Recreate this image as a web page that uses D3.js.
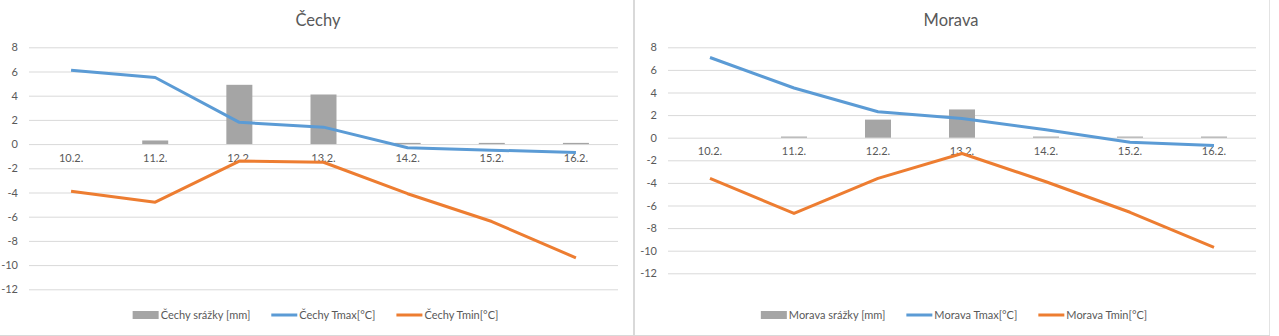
<!DOCTYPE html>
<html>
<head>
<meta charset="utf-8">
<script src="https://d3js.org/d3.v7.min.js"></script>
<style>
  body { margin: 0; background: #fff; }
  svg text { font-family: Lato, "Open Sans", sans-serif; fill: #595959; }
  .grid .domain { display: none; }
</style>
</head>
<body>
<script>
const days = ['10.2.', '11.2.', '12.2.', '13.2.', '14.2.', '15.2.', '16.2.']
const yTicks = [8, 6, 4, 2, 0, -2, -4, -6, -8, -10, -12]

const cechySrazky = [0, 0.3, 4.9, 4.1, 0.1, 0.1, 0.1]
const cechyTmax = [6.1, 5.5, 1.8, 1.4, -0.3, -0.5, -0.7]
const cechyTmin = [-3.9, -4.8, -1.4, -1.5, -4.1, -6.4, -9.4]

const moravaSrazky = [0, 0.1, 1.6, 2.5, 0.1, 0.1, 0.1]
const moravaTmax = [7.1, 4.4, 2.3, 1.7, 0.7, -0.4, -0.7]
const moravaTmin = [-3.6, -6.7, -3.6, -1.4, -3.9, -6.6, -9.7]

const W = 1279, H = 336
const colors = {bar: '#a5a5a5', tmax: '#5b9bd5', tmin: '#ed7d31'}
const fs = '11px'

const svg = d3.select('body').append('svg')
    .attr('width', W)
    .attr('height', H)

// panel frames
svg.append('line').attr('x1', 634).attr('x2', 634).attr('y1', 0).attr('y2', 335)
  .attr('stroke', '#d9d9d9').attr('stroke-width', 2)
svg.append('line').attr('x1', 1269.5).attr('x2', 1269.5).attr('y1', 0).attr('y2', 335)
  .attr('stroke', '#e3e3e3')
svg.append('line').attr('x1', 0).attr('x2', 1270).attr('y1', 335.5).attr('y2', 335.5)
  .attr('stroke', '#d9d9d9')

function drawPanel(p) {
  const g = svg.append('g')

  const x = d3.scaleBand().domain(days).range([p.left, p.right])
  const y = d3.scaleLinear().domain([-12, 8]).range([p.bottom, p.top])

  // title
  g.append('text')
    .attr('x', p.cx).attr('y', 26)
    .attr('text-anchor', 'middle')
    .style('font-size', '16.5px')
    .text(p.title)

  // gridlines + value labels (plain hyphen minus)
  const ya = g.append('g').attr('class', 'grid')
    .attr('transform', 'translate(' + p.left + ',0)')
    .call(d3.axisLeft(y).tickValues(yTicks).tickFormat(d => String(d))
      .tickSize(-(p.right - p.left)).tickPadding(11))
  ya.selectAll('text').style('font-size', fs)
  ya.selectAll('line').attr('stroke', '#d9d9d9')

  // precipitation bars
  const bw = 26
  g.append('g').selectAll('rect')
    .data(p.srazky)
    .enter()
    .append('rect')
      .attr('x', (d, i) => x(days[i]) + x.bandwidth() / 2 - bw / 2)
      .attr('y', d => y(d))
      .attr('width', bw)
      .attr('height', d => y(0) - y(d))
      .style('fill', colors.bar)

  // category labels sit just under the zero line
  const xa = g.append('g')
    .attr('transform', 'translate(0,' + y(0) + ')')
    .call(d3.axisBottom(x).tickSize(0).tickPadding(10))
  xa.select('.domain').remove()
  xa.selectAll('text').style('font-size', fs)

  const line = d3.line()
    .x((d, i) => x(days[i]) + x.bandwidth() / 2)
    .y(d => y(d))

  g.append('path').datum(p.tmax)
    .attr('d', line)
    .attr('fill', 'none').attr('stroke', colors.tmax)
    .attr('stroke-width', 3).attr('stroke-linejoin', 'round')
  g.append('path').datum(p.tmin)
    .attr('d', line)
    .attr('fill', 'none').attr('stroke', colors.tmin)
    .attr('stroke-width', 3).attr('stroke-linejoin', 'round')

  // legend
  const items = [
    {name: p.title + ' srážky [mm]', kind: 'bar', color: colors.bar},
    {name: p.title + ' Tmax[°C]', kind: 'line', color: colors.tmax},
    {name: p.title + ' Tmin[°C]', kind: 'line', color: colors.tmin}
  ]
  const lg = g.append('g')
  let cur = 0
  items.forEach((it, i) => {
    const ig = lg.append('g').attr('transform', 'translate(' + cur + ',0)')
    if (it.kind === 'bar') {
      ig.append('rect').attr('x', 0).attr('y', -4).attr('width', 26).attr('height', 8)
        .style('fill', it.color)
    } else {
      ig.append('line').attr('x1', 0).attr('x2', 26).attr('y1', 0).attr('y2', 0)
        .attr('stroke', it.color).attr('stroke-width', 3)
    }
    const t = ig.append('text').attr('x', 28).attr('y', 4)
      .style('font-size', fs).text(it.name)
    cur += 28 + t.node().getComputedTextLength() + 21
  })
  const lw = cur - 21
  lg.attr('transform', 'translate(' + (p.legendCx - lw / 2) + ',' + p.legendY + ')')
}

drawPanel({title: 'Čechy', left: 29, right: 618, top: 47.3, bottom: 289.3,
  cx: 318, legendCx: 315.5, legendY: 315,
  srazky: cechySrazky, tmax: cechyTmax, tmin: cechyTmin})

drawPanel({title: 'Morava', left: 668, right: 1256, top: 47.3, bottom: 273.3,
  cx: 951, legendCx: 954, legendY: 315,
  srazky: moravaSrazky, tmax: moravaTmax, tmin: moravaTmin})
</script>
</body>
</html>
